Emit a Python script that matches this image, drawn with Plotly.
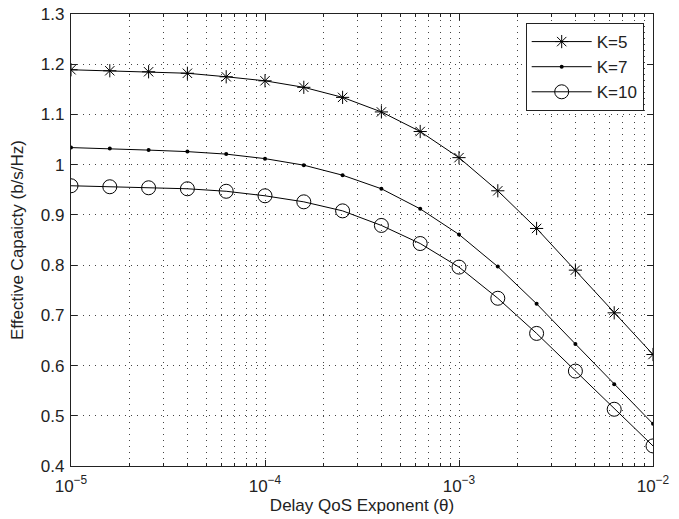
import numpy as np
import plotly.graph_objects as go

theta_exp = [-5.0, -4.8, -4.6, -4.4, -4.2, -4.0, -3.8, -3.6, -3.4, -3.2, -3.0, -2.8, -2.6, -2.4, -2.2, -2.0]
theta = [10 ** e for e in theta_exp]

k5 = [1.189, 1.187, 1.185, 1.182, 1.175, 1.167, 1.154, 1.134, 1.105, 1.066, 1.014, 0.948, 0.873, 0.790, 0.705, 0.622]
k7 = [1.034, 1.032, 1.029, 1.026, 1.021, 1.012, 0.999, 0.979, 0.952, 0.912, 0.861, 0.797, 0.723, 0.643, 0.563, 0.484]
k10 = [0.958, 0.956, 0.954, 0.952, 0.947, 0.938, 0.926, 0.908, 0.879, 0.843, 0.796, 0.734, 0.664, 0.589, 0.513, 0.440]

y_ticks = [0.4, 0.5, 0.6, 0.7, 0.8, 0.9, 1, 1.1, 1.2, 1.3]
y_labels = ["0.4", "0.5", "0.6", "0.7", "0.8", "0.9", "1", "1.1", "1.2", "1.3"]
decades = [-5, -4, -3, -2]
x_major = [10.0 ** d for d in decades]
x_labels = [f"10<sup>\u2212{-d}</sup>" for d in decades]
x_minor = [m * 10.0 ** d for d in decades[:-1] for m in range(2, 10)]

fig = go.Figure()
series = [("K=5", k5, dict(symbol="asterisk-open", size=11, color="black", line=dict(width=1, color="black"))),
          ("K=7", k7, dict(symbol="circle", size=4, color="black")),
          ("K=10", k10, dict(symbol="circle-open", size=14, color="black", line=dict(width=1, color="black")))]
for name, ys, mk in series:
    fig.add_trace(go.Scatter(x=theta, y=ys, mode="lines+markers", name=name,
                             line=dict(color="black", width=1), marker=mk))

grid_style = dict(showgrid=True, gridcolor="#444444", griddash="1px,5px", gridwidth=1)
axis_common = dict(showline=True, linecolor="#222222", linewidth=1.2, mirror="ticks",
                   ticks="inside", ticklen=6, tickcolor="#222222",
                   zeroline=False, tickfont=dict(size=17, color="#222222"), **grid_style)

fig.update_xaxes(type="log", range=[-5, -2], tickvals=x_major, ticktext=x_labels,
                 ticklabelstandoff=4,
                 minor=dict(tickvals=x_minor, ticks="inside", ticklen=3, tickcolor="#222222", **grid_style),
                 title=dict(text="Delay QoS Exponent (\u03b8)", font=dict(size=17, color="#222222"), standoff=4),
                 **axis_common)
fig.update_yaxes(range=[0.4, 1.3], tickvals=y_ticks, ticktext=y_labels,
                 ticklabelstandoff=2,
                 title=dict(text="Effective Capaicty (b/s/Hz)", font=dict(size=17, color="#222222"), standoff=12),
                 **axis_common)

fig.update_layout(width=679, height=519,
                  margin=dict(l=71, r=26, t=14, b=53, autoexpand=False),
                  paper_bgcolor="white", plot_bgcolor="white",
                  font=dict(family="Liberation Sans, Arial, sans-serif", color="#222222"),
                  legend=dict(x=0.984, y=0.98, xanchor="right", yanchor="top",
                              bgcolor="white", bordercolor="#222222", borderwidth=1,
                              font=dict(size=17), tracegroupgap=0, itemwidth=60))

fig.write_html("out.html", config={"displayModeBar": False},
               post_script="document.body.style.margin='0';document.body.style.overflow='hidden';")
